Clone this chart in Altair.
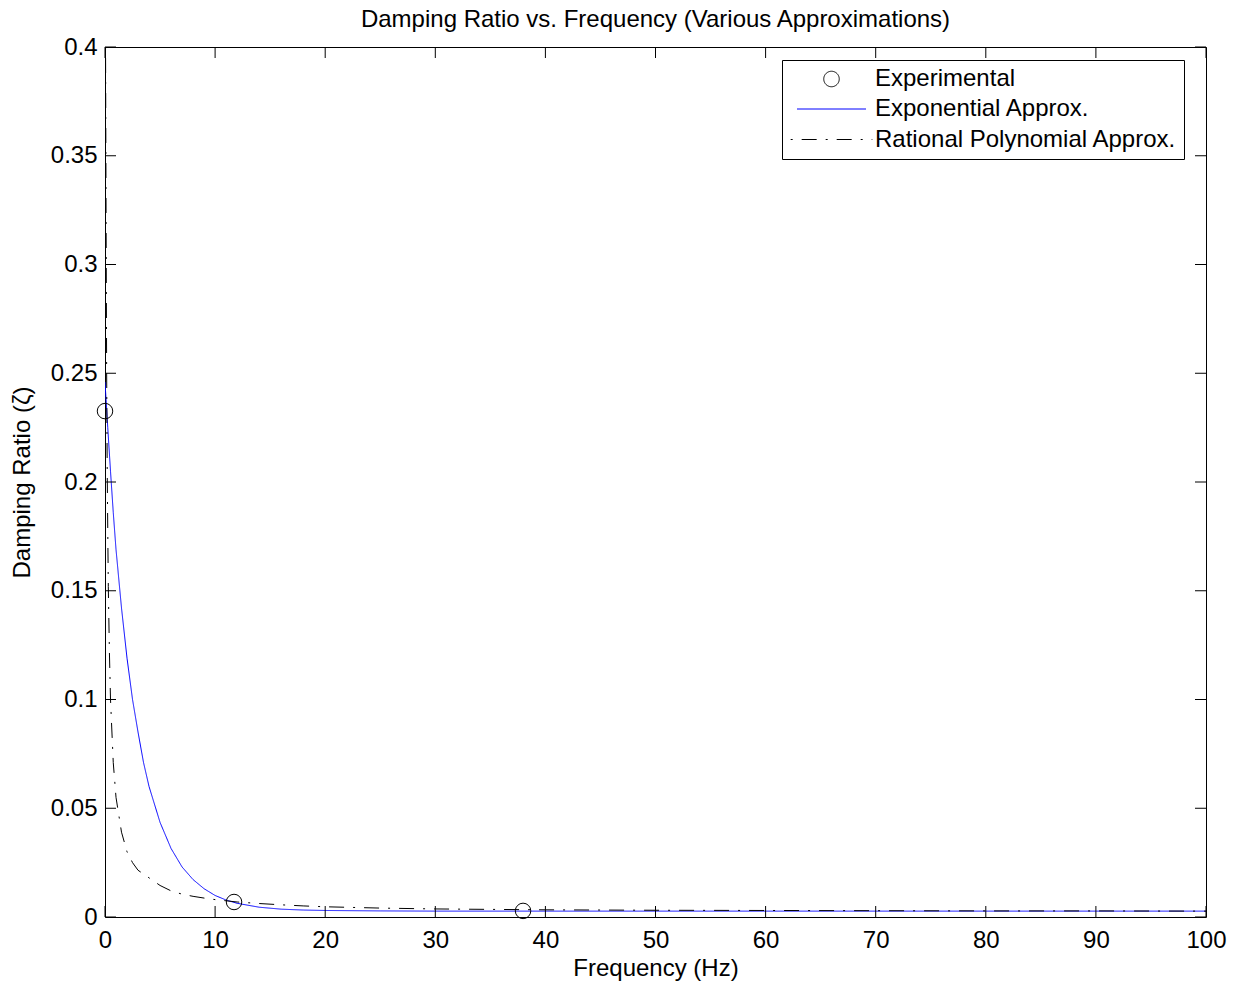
import altair as alt
import pandas as pd

# ---------------- data ----------------
series_names = ["Experimental", "Exponential Approx.", "Rational Polynomial Approx."]

exp_freq = [11.72, 37.97, 0.0]
exp_zeta = [0.0069, 0.0028, 0.2326]

expo_x = [0, 0.25, 0.5, 0.75, 1, 1.5, 2, 2.5, 3, 3.5, 4, 5, 6, 7, 8, 9, 10, 11, 12,
          14, 16, 18, 20, 25, 30, 40, 50, 60, 70, 80, 90, 100]
expo_y = [0.246, 0.225, 0.205, 0.186, 0.169, 0.142, 0.119, 0.100, 0.085, 0.071, 0.060,
          0.0435, 0.0315, 0.0230, 0.0172, 0.0130, 0.0099, 0.0078, 0.0063,
          0.0045, 0.0036, 0.0032, 0.0030, 0.0028, 0.0027, 0.0027, 0.0027, 0.0027,
          0.0027, 0.0027, 0.0027, 0.0027]

rat_x = [0.05, 0.1, 0.15, 0.2, 0.3, 0.4, 0.5, 0.75, 1, 1.5, 2, 2.5, 3, 4, 5, 6, 7, 8, 9,
         10, 12, 14, 16, 18, 20, 25, 30, 40, 50, 60, 70, 80, 90, 100]
rat_y = [0.400, 0.320, 0.250, 0.205, 0.152, 0.122, 0.100, 0.071, 0.055, 0.039, 0.030,
         0.025, 0.0215, 0.018, 0.0145, 0.0120, 0.0105, 0.0095, 0.0087,
         0.0080, 0.0069, 0.0062, 0.0056, 0.0051, 0.0047, 0.0041, 0.0037, 0.0033,
         0.0031, 0.0030, 0.0029, 0.0028, 0.0028, 0.0027]

x_ticks = [0, 10, 20, 30, 40, 50, 60, 70, 80, 90, 100]
y_ticks = [0, 0.05, 0.1, 0.15, 0.2, 0.25, 0.3, 0.35, 0.4]

# ---------------- tables ----------------
pts_df = pd.DataFrame({"x": exp_freq, "y": exp_zeta, "series": series_names[0]})
lines_df = pd.concat([
    pd.DataFrame({"x": expo_x, "y": expo_y, "series": series_names[1]}),
    pd.DataFrame({"x": rat_x, "y": rat_y, "series": series_names[2]}),
], ignore_index=True)
xt_df = pd.DataFrame({"x": x_ticks})
yt_df = pd.DataFrame({"y": y_ticks})

W, H = 1101, 870
FONT = "Liberation Sans"
FS = 24

xscale = alt.Scale(domain=[0, 100], nice=False, zero=False)
yscale = alt.Scale(domain=[0, 0.4], nice=False, zero=False)

legend = alt.Legend(
    orient="none", legendX=677, legendY=13, title=None,
    labelFontSize=FS, labelFont=FONT, labelColor="black", labelLimit=600,
    fillColor="white", strokeColor="black", padding=7,
    symbolOffset=30, labelOffset=31, rowPadding=6, symbolStrokeWidth=1,
    symbolOpacity=1,
)

# line symbols are a long horizontal path so that their layout size stays small
line_sym = "M-3.45,0H3.45"
color_scale = alt.Scale(domain=series_names, range=["black", "#0000ff", "black"])
shape_scale = alt.Scale(domain=series_names, range=["circle", line_sym, line_sym])
size_scale = alt.Scale(domain=series_names, range=[240, 560, 560])
dash_scale = alt.Scale(domain=series_names, range=[[1, 0], [1, 0], [2, 9, 15, 9]])

x_axis = alt.Axis(values=x_ticks, format="d", title="Frequency (Hz)", grid=False,
                  domain=False, tickSize=0, labelPadding=11, labelFontSize=FS,
                  titleFontSize=FS, titleFontWeight="normal", titleY=51,
                  titleBaseline="middle", labelFlush=False)
y_axis = alt.Axis(values=y_ticks, format="~g", title="Damping Ratio (ζ)", grid=False,
                  domain=False, tickSize=0, labelPadding=8, labelFontSize=FS,
                  titleFontSize=FS, titleFontWeight="normal", titleX=-83,
                  titleBaseline="middle", labelFlush=False)

X = alt.X("x:Q", scale=xscale, axis=x_axis)
Y = alt.Y("y:Q", scale=yscale, axis=y_axis)

lines = alt.Chart(lines_df).mark_line(strokeWidth=1, clip=True).encode(
    x=X, y=Y,
    color=alt.Color("series:N", scale=color_scale, legend=legend),
    strokeDash=alt.StrokeDash("series:N", scale=dash_scale, legend=legend),
)

points = alt.Chart(pts_df).mark_point(filled=False, strokeWidth=1, opacity=1).encode(
    x=X, y=Y,
    color=alt.Color("series:N", scale=color_scale, legend=legend),
    shape=alt.Shape("series:N", scale=shape_scale, legend=legend),
    size=alt.Size("series:N", scale=size_scale, legend=legend),
)

xt_bottom = alt.Chart(xt_df).mark_rule(color="black", strokeWidth=1).encode(
    x=X, y=alt.value(H), y2=alt.value(H - 11))
xt_top = alt.Chart(xt_df).mark_rule(color="black", strokeWidth=1).encode(
    x=X, y=alt.value(0), y2=alt.value(11))
yt_left = alt.Chart(yt_df).mark_rule(color="black", strokeWidth=1).encode(
    y=Y, x=alt.value(0), x2=alt.value(11))
yt_right = alt.Chart(yt_df).mark_rule(color="black", strokeWidth=1).encode(
    y=Y, x=alt.value(W), x2=alt.value(W - 11))

chart = alt.layer(lines, points, xt_bottom, xt_top, yt_left, yt_right).properties(
    width=W, height=H,
    title=alt.Title("Damping Ratio vs. Frequency (Various Approximations)",
                    fontSize=FS, fontWeight="normal", font=FONT, color="black",
                    anchor="middle", baseline="alphabetic", offset=19, dy=35,
                    frame="group"),
    autosize=alt.AutoSizeParams(type="none"),
    padding={"left": 105, "top": 47, "right": 34, "bottom": 69},
).configure(font=FONT, background="white").configure_view(
    stroke="black", strokeWidth=1
).configure_axis(labelColor="black", titleColor="black", labelFont=FONT, titleFont=FONT)

chart.save("out.html", embed_options={"renderer": "svg", "actions": False})
